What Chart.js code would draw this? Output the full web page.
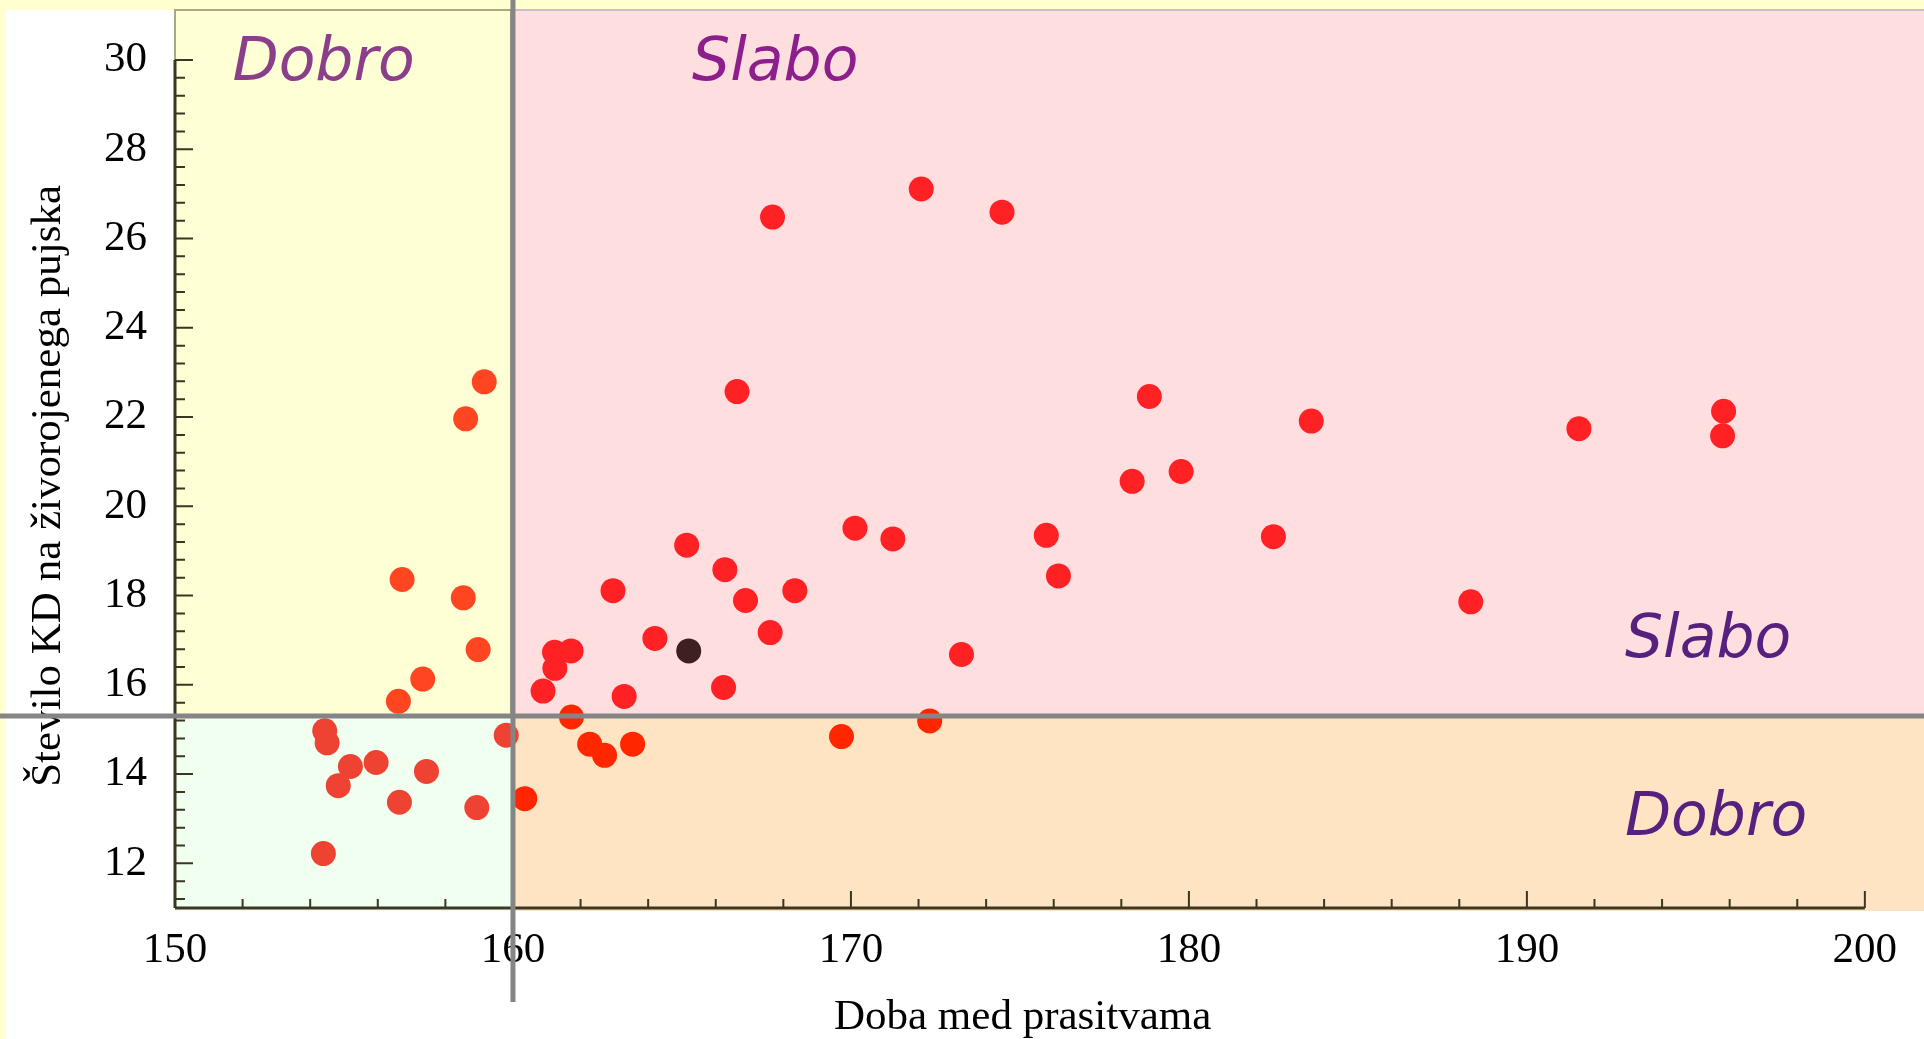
<!DOCTYPE html>
<html>
<head>
<meta charset="utf-8">
<title>Doba med prasitvama</title>
<script src="https://cdn.jsdelivr.net/npm/chart.js@4.4.1/dist/chart.umd.min.js"></script>
<style>
    html, body { margin: 0; padding: 0; background: #ffffd0; }
    canvas { display: block; }
</style>
</head>
<body>
<canvas id="chart" width="1924" height="1039"></canvas>
<script>
// Podatki: doba med prasitvama (dni) in število KD na živorojenega pujska
const intervalDays = [
    159.15, 158.6, 156.72, 158.53, 158.97, 157.33, 156.61,
    154.43, 154.5, 155.19, 155.95, 154.83, 157.44, 156.64, 158.93, 154.39, 159.8,
    160.35, 161.73, 162.27, 162.71, 163.54, 169.72, 172.33,
    160.89, 161.24, 161.23, 161.72, 163.29, 162.96, 164.2, 165.14, 166.27, 166.23,
    166.88, 167.61, 168.34, 166.63, 167.68, 172.08, 174.47, 170.12, 171.24, 173.27,
    175.78, 176.14, 178.32, 178.83, 179.77, 182.5, 183.62, 188.34, 191.54, 195.82, 195.79
];
const deadPerPiglet = [
    22.79, 21.96, 18.36, 17.95, 16.79, 16.13, 15.63,
    14.97, 14.7, 14.17, 14.26, 13.74, 14.06, 13.37, 13.25, 12.22, 14.87,
    13.45, 15.28, 14.67, 14.42, 14.67, 14.84, 15.19,
    15.86, 16.37, 16.73, 16.76, 15.74, 18.11, 17.04, 19.13, 18.58, 15.94,
    17.89, 17.17, 18.11, 22.57, 26.48, 27.11, 26.59, 19.51, 19.27, 16.68,
    19.35, 18.44, 20.56, 22.46, 20.78, 19.32, 21.91, 17.86, 21.74, 22.13, 21.58
];
// izpostavljena farma (temna pika)
const farmDays = [165.2];
const farmDead = [16.76];

const xTickLabels = [150, 160, 170, 180, 190, 200];
const yTickLabels = [12, 14, 16, 18, 20, 22, 24, 26, 28, 30];

// meje med "dobro" in "slabo"
const limitDays = 160;
const limitDead = 15.3;

function pointColor(x, y) {
    if (x < limitDays) return y >= limitDead ? '#ff4620' : '#ee4233';
    return y >= limitDead ? '#ff2124' : '#ff2600';
}

// brez dodatnega prostora za robne oznake
function noPadding(axis) {
    axis.paddingTop = 0;
    axis.paddingBottom = 0;
    axis.paddingLeft = 0;
    axis.paddingRight = 0;
}

const zonesPlugin = {
    id: 'zones',
    beforeDraw(chart) {
        const { ctx, chartArea: a, scales: { x, y } } = chart;
        ctx.save();
        ctx.fillStyle = '#ffffd0';
        ctx.fillRect(0, 0, chart.width, chart.height);
        ctx.fillStyle = '#ffffff';
        ctx.fillRect(6, 10, chart.width - 6, chart.height - 10);

        const xm = x.getPixelForValue(limitDays);
        const ym = y.getPixelForValue(limitDead);
        const bottom = a.bottom + 3;
        ctx.fillStyle = '#ffffd6';
        ctx.fillRect(a.left, a.top, xm - a.left, ym - a.top);
        ctx.fillStyle = '#ffdee0';
        ctx.fillRect(xm, a.top, a.right - xm, ym - a.top);
        ctx.fillStyle = '#f1fff1';
        ctx.fillRect(a.left, ym, xm - a.left, bottom - ym);
        ctx.fillStyle = '#ffe4c4';
        ctx.fillRect(xm, ym, a.right - xm, bottom - ym);

        ctx.strokeStyle = '#a8a888';
        ctx.lineWidth = 2;
        ctx.strokeRect(a.left, a.top, xm - a.left - 2, ym - a.top);
        ctx.strokeStyle = '#c8c0c0';
        ctx.beginPath();
        ctx.moveTo(xm, a.top);
        ctx.lineTo(a.right, a.top);
        ctx.stroke();
        ctx.restore();
    },
    afterDatasetsDraw(chart) {
        const { ctx, scales: { x, y } } = chart;
        const x0 = x.getPixelForValue(xTickLabels[0]);
        const x1 = x.getPixelForValue(xTickLabels[xTickLabels.length - 1]);
        const yb = y.getPixelForValue(y.min);
        const yt = y.getPixelForValue(yTickLabels[yTickLabels.length - 1]);
        ctx.save();

        // osi z notranjimi oznakami
        ctx.strokeStyle = '#3a3622';
        ctx.lineWidth = 3;
        ctx.beginPath();
        ctx.moveTo(x0, yb);
        ctx.lineTo(x1, yb);
        ctx.moveTo(x0, yb);
        ctx.lineTo(x0, yt);
        ctx.stroke();
        ctx.lineWidth = 2;
        ctx.beginPath();
        for (let v = xTickLabels[0]; v <= xTickLabels[xTickLabels.length - 1]; v += 2) {
            const px = x.getPixelForValue(v);
            const len = xTickLabels.includes(v) ? 17 : 9;
            ctx.moveTo(px, yb);
            ctx.lineTo(px, yb - len);
        }
        const top = yTickLabels[yTickLabels.length - 1];
        for (let k = 0; top - k * 0.4 > y.min; k++) {
            const v = top - k * 0.4;
            const py = y.getPixelForValue(v);
            const len = k % 5 === 0 ? 18 : 10;
            ctx.moveTo(x0, py);
            ctx.lineTo(x0 + len, py);
        }
        ctx.stroke();

        // mejni črti
        const xm = x.getPixelForValue(limitDays);
        const ym = y.getPixelForValue(limitDead);
        ctx.strokeStyle = '#858585';
        ctx.lineWidth = 5;
        ctx.beginPath();
        ctx.moveTo(0, ym);
        ctx.lineTo(chart.width, ym);
        ctx.moveTo(xm, 0);
        ctx.lineTo(xm, yb + 94);
        ctx.stroke();

        // napisi con
        ctx.font = 'italic 60px "DejaVu Sans", sans-serif';
        ctx.textBaseline = 'alphabetic';
        ctx.fillStyle = '#8b3f8a';
        ctx.fillText('Dobro', x.getPixelForValue(151.7), y.getPixelForValue(29.55));
        ctx.fillStyle = '#8c1f8c';
        ctx.fillText('Slabo', x.getPixelForValue(165.3), y.getPixelForValue(29.55));
        ctx.fillStyle = '#56207f';
        ctx.fillText('Slabo', x.getPixelForValue(192.9), y.getPixelForValue(16.63));
        ctx.fillText('Dobro', x.getPixelForValue(192.9), y.getPixelForValue(12.64));
        ctx.restore();
    }
};

const serif = '"Liberation Serif", "Times New Roman", serif';
// presledki na koncu premaknejo naslova osi kot v izvirniku
const pad = '\u00a0\u00a0\u00a0\u00a0\u00a0';

new Chart(document.getElementById('chart'), {
    type: 'scatter',
    data: {
        datasets: [{
            label: 'Farme',
            data: intervalDays.map((d, i) => ({ x: d, y: deadPerPiglet[i] })),
            backgroundColor: ctx => ctx.raw ? pointColor(ctx.raw.x, ctx.raw.y) : '#ff2124',
            borderWidth: 0,
            pointRadius: 12.5,
            pointHoverRadius: 12.5
        }, {
            label: 'Izbrana farma',
            data: farmDays.map((d, i) => ({ x: d, y: farmDead[i] })),
            backgroundColor: '#3e1f22',
            borderWidth: 0,
            pointRadius: 12.5,
            pointHoverRadius: 12.5
        }]
    },
    options: {
        responsive: false,
        animation: false,
        layout: { autoPadding: false, padding: { top: 10, left: 0, right: 0, bottom: 0 } },
        plugins: {
            legend: { display: false },
            tooltip: { enabled: false }
        },
        scales: {
            x: {
                type: 'linear',
                min: 150,
                max: 201.75,
                afterBuildTicks: axis => { axis.ticks = xTickLabels.map(v => ({ value: v })); },
                afterFit: axis => { axis.height = 131; noPadding(axis); },
                grid: { display: false, drawTicks: false },
                border: { display: false },
                ticks: {
                    padding: 17,
                    maxRotation: 0,
                    color: '#000',
                    font: { family: serif, size: 43 }
                },
                title: {
                    display: true,
                    text: 'Doba med prasitvama' + pad,
                    color: '#000',
                    padding: 0,
                    font: { family: serif, size: 43, lineHeight: 1 }
                }
            },
            y: {
                type: 'linear',
                min: 11,
                max: 31.12,
                afterBuildTicks: axis => { axis.ticks = yTickLabels.map(v => ({ value: v })); },
                afterFit: axis => { axis.width = 175; noPadding(axis); },
                grid: { display: false, drawTicks: false },
                border: { display: false },
                ticks: {
                    padding: 28,
                    color: '#000',
                    font: { family: serif, size: 43 }
                },
                title: {
                    display: true,
                    text: 'Število KD na živorojenega pujska' + pad,
                    color: '#000',
                    padding: { top: 27, bottom: 0 },
                    font: { family: serif, size: 43, lineHeight: 1 }
                }
            }
        }
    },
    plugins: [zonesPlugin]
});
</script>
</body>
</html>
